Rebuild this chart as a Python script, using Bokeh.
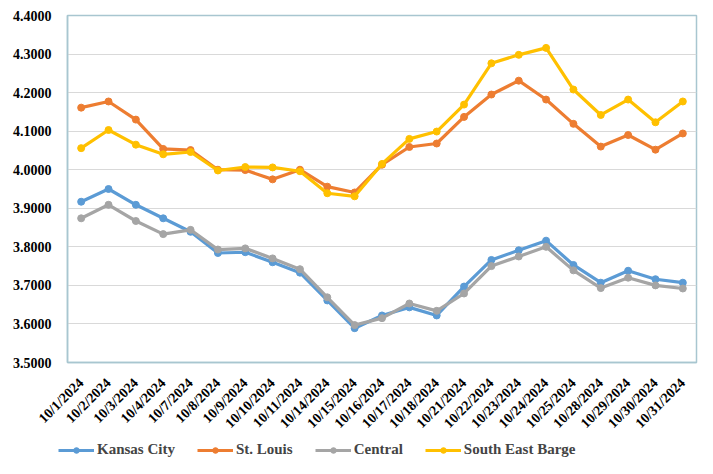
import math
from bokeh.plotting import figure
from bokeh.layouts import column, row
from bokeh.models import FactorRange, Range1d, Legend, LegendItem, SingleIntervalTicker, NumeralTickFormatter
from bokeh.embed import file_html
from bokeh.resources import INLINE

dates = ["10/1/2024", "10/2/2024", "10/3/2024", "10/4/2024", "10/7/2024", "10/8/2024",
         "10/9/2024", "10/10/2024", "10/11/2024", "10/14/2024", "10/15/2024", "10/16/2024",
         "10/17/2024", "10/18/2024", "10/21/2024", "10/22/2024", "10/23/2024", "10/24/2024",
         "10/25/2024", "10/28/2024", "10/29/2024", "10/30/2024", "10/31/2024"]

kansas_city = [3.917, 3.950, 3.909, 3.874, 3.839, 3.784, 3.786, 3.760, 3.733, 3.661, 3.589, 3.622,
               3.643, 3.622, 3.697, 3.766, 3.791, 3.816, 3.753, 3.707, 3.738, 3.716, 3.707]
st_louis = [4.161, 4.177, 4.130, 4.054, 4.051, 4.000, 3.999, 3.975, 4.000, 3.956, 3.941, 4.013,
            4.059, 4.068, 4.137, 4.195, 4.231, 4.182, 4.119, 4.060, 4.090, 4.052, 4.094]
central = [3.874, 3.909, 3.867, 3.833, 3.844, 3.793, 3.796, 3.770, 3.742, 3.669, 3.597, 3.615,
           3.653, 3.634, 3.679, 3.750, 3.775, 3.800, 3.739, 3.693, 3.720, 3.700, 3.692]
south_east_barge = [4.056, 4.103, 4.065, 4.040, 4.046, 3.998, 4.007, 4.006, 3.996, 3.939, 3.931, 4.015,
                    4.080, 4.099, 4.169, 4.276, 4.298, 4.316, 4.208, 4.142, 4.182, 4.123, 4.177]

series_names = ["Kansas City", "St. Louis", "Central", "South East Barge"]
series_values = [kansas_city, st_louis, central, south_east_barge]
colors = ["#5B9BD5", "#ED7D31", "#A5A5A5", "#FFC000"]

FONT = "Liberation Serif"
frame_color = "#A8C6D0"

p = figure(width=705, height=439, x_range=FactorRange(*dates), y_range=Range1d(3.5, 4.4),
           output_backend="svg", toolbar_location=None,
           min_border_left=67, min_border_right=9, min_border_top=15, min_border_bottom=77)
p.outline_line_color = frame_color
p.outline_line_width = 1.5
p.background_fill_color = "white"
p.border_fill_color = "white"

p.xgrid.grid_line_color = None
p.ygrid.grid_line_color = "#D9D9D9"
p.ygrid.grid_line_width = 1

p.yaxis.ticker = SingleIntervalTicker(interval=0.1)
p.yaxis.formatter = NumeralTickFormatter(format="0.0000")
for ax in (p.xaxis, p.yaxis):
    ax.axis_line_color = frame_color
    ax.axis_line_width = 1.5
    ax.major_tick_line_color = None
    ax.minor_tick_line_color = None
    ax.major_label_text_font = FONT
    ax.major_label_text_font_style = "bold"
    ax.major_label_text_color = "#000000"
p.yaxis.major_label_text_font_size = "14px"
p.xaxis.major_label_text_font_size = "14px"
p.xaxis.major_label_orientation = math.pi / 4
p.yaxis.major_label_standoff = 10
p.xaxis.major_label_standoff = 12

for vals, c in zip(series_values, colors):
    p.line(dates, vals, line_color=c, line_width=3.2)
    p.scatter(dates, vals, marker="circle", size=7, fill_color=c, line_color=c)

# legend strip below the chart (its own small figure; its glyphs fall outside its range)
leg = figure(width=705, height=27, x_range=FactorRange(*dates), y_range=Range1d(0, 1),
             output_backend="svg", toolbar_location=None,
             min_border_left=0, min_border_right=0, min_border_top=0, min_border_bottom=0)
leg.axis.visible = False
leg.grid.grid_line_color = None
leg.outline_line_color = None
items = []
for name, vals, c in zip(series_names, series_values, colors):
    r1 = leg.line(dates, vals, line_color=c, line_width=3.2)
    r2 = leg.scatter(dates, vals, marker="circle", size=7, fill_color=c, line_color=c)
    items.append(LegendItem(label=name, renderers=[r1, r2]))
legend = Legend(items=items, orientation="horizontal", location=(58, 8),
                label_text_font=FONT, label_text_font_style="bold", label_text_font_size="15px",
                glyph_width=36, glyph_height=14, spacing=22, label_standoff=3,
                padding=0, margin=0, border_line_color=None, background_fill_alpha=0)
leg.add_layout(legend, "center")

open("out.html", "w").write(file_html(column(p, row(leg)), INLINE))
